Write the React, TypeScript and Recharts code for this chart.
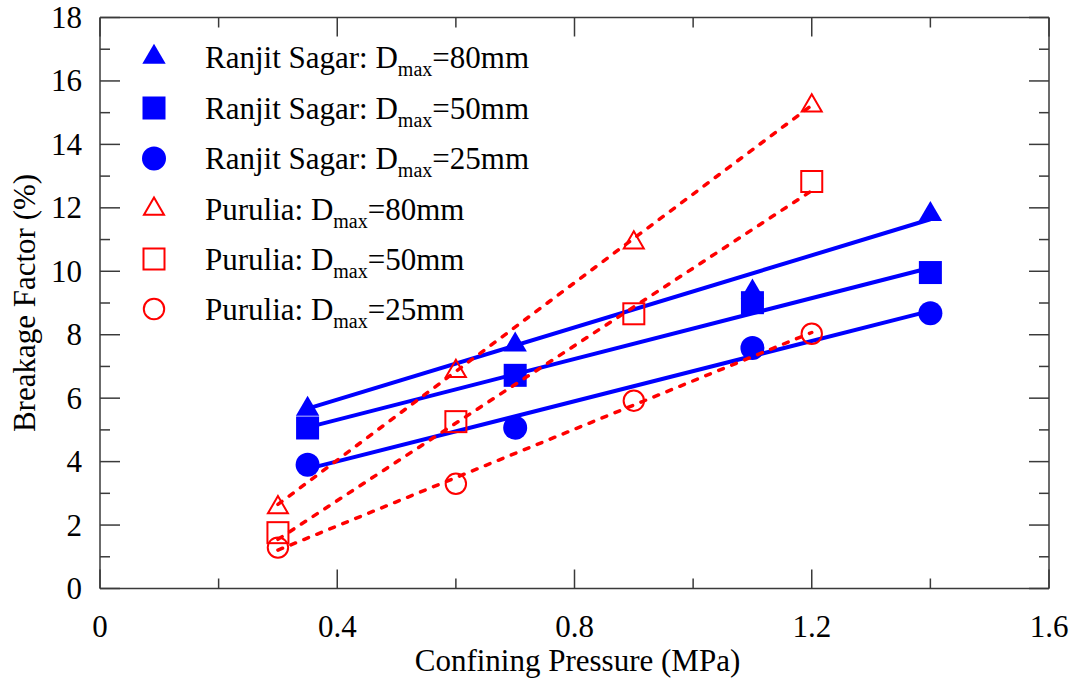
import React from 'react';
import { ScatterChart, Scatter, XAxis, YAxis, Legend } from 'recharts';

// ---- data ----
const pressureRS = [0.35, 0.7, 1.1, 1.4];
const pressurePU = [0.3, 0.6, 0.9, 1.2];
const rs80 = [5.66, 7.68, 9.35, 11.8];
const rs50 = [5.06, 6.72, 9.01, 9.96];
const rs25 = [3.9, 5.07, 7.58, 8.68];
const pu80 = [2.55, 6.85, 10.9, 15.22];
const pu50 = [1.76, 5.26, 8.66, 12.83];
const pu25 = [1.29, 3.3, 5.92, 8.03];

// fitted trend lines (end points)
const fitXRS = [0.35, 1.4];
const fitXPU = [0.3, 1.2];
const fitRS80 = [5.67, 11.64];
const fitRS50 = [5.08, 10.11];
const fitRS25 = [3.77, 8.75];
const fitPU80 = [2.65, 15.23];
const fitPU50 = [1.55, 12.54];
const fitPU25 = [1.21, 8.07];

const xTicks = [0, 0.2, 0.4, 0.6, 0.8, 1.0, 1.2, 1.4, 1.6];
const xTickLabels = ['0', '', '0.4', '', '0.8', '', '1.2', '', '1.6'];
const yTicks = [0, 1, 2, 3, 4, 5, 6, 7, 8, 9, 10, 11, 12, 13, 14, 15, 16, 17, 18];
const yTickLabels = ['0', '', '2', '', '4', '', '6', '', '8', '', '10', '', '12', '', '14', '', '16', '', '18'];

const legendSources = ['Ranjit Sagar', 'Ranjit Sagar', 'Ranjit Sagar', 'Purulia', 'Purulia', 'Purulia'];
const legendSizes = ['80', '50', '25', '80', '50', '25'];
const legendShapes = ['triF', 'sqF', 'ciF', 'triO', 'sqO', 'ciO'];

const xTitle = 'Confining Pressure (MPa)';
const yTitle = 'Breakage Factor (%)';

const BLUE = '#0000ff';
const RED = '#ff0000';
const AXIS = '#3a3a3a';
const FONT = "'Times New Roman', Times, 'Liberation Serif', Tinos, 'DejaVu Serif', 'Noto Serif', FreeSerif, serif";
const FS = 31;
const txtStyle = { fontFamily: FONT, fontSize: FS };

const toPts = (xs: number[], ys: number[]) => xs.map((x, i) => ({ x, y: ys[i] }));

// ---- marker shapes ----
const drawMarker = (kind: string, cx: number, cy: number, key?: any) => {
  switch (kind) {
    case 'triF':
      return <path key={key} d={`M${cx},${cy - 13.3} L${cx + 11.7},${cy + 6.7} L${cx - 11.7},${cy + 6.7} Z`} fill={BLUE} />;
    case 'sqF':
      return <rect key={key} x={cx - 11.5} y={cy - 11.5} width={23} height={23} fill={BLUE} />;
    case 'ciF':
      return <circle key={key} cx={cx} cy={cy} r={12} fill={BLUE} />;
    case 'triO':
      return <path key={key} d={`M${cx},${cy - 11.5} L${cx + 10},${cy + 5.7} L${cx - 10},${cy + 5.7} Z`} fill="none" stroke={RED} strokeWidth={2} />;
    case 'sqO':
      return <rect key={key} x={cx - 10.5} y={cy - 10.5} width={21} height={21} fill="none" stroke={RED} strokeWidth={2} />;
    case 'ciO':
      return <circle key={key} cx={cx} cy={cy} r={10.2} fill="none" stroke={RED} strokeWidth={2} />;
    default:
      return <g key={key} />;
  }
};

const makeShape = (kind: string) => (p: any) => drawMarker(kind, p.cx, p.cy);
const NoShape = () => <g />;

// ---- ticks ----
const BottomTick = (p: any) => {
  const i = xTicks.findIndex((t) => Math.abs(t - p.payload.value) < 1e-6);
  const lab = i >= 0 ? xTickLabels[i] : '';
  const major = lab !== '';
  return (
    <g>
      <line x1={p.x} y1={p.y} x2={p.x} y2={p.y - (major ? 19 : 10)} stroke={AXIS} strokeWidth={1.5} />
      {major && (
        <text x={p.x} y={p.y + 48} textAnchor="middle" style={txtStyle} fill="#000">
          {lab}
        </text>
      )}
    </g>
  );
};
const TopTick = (p: any) => {
  const i = xTicks.findIndex((t) => Math.abs(t - p.payload.value) < 1e-6);
  const major = i >= 0 && xTickLabels[i] !== '';
  return <line x1={p.x} y1={p.y} x2={p.x} y2={p.y + (major ? 19 : 10)} stroke={AXIS} strokeWidth={1.5} />;
};
const LeftTick = (p: any) => {
  const i = yTicks.findIndex((t) => Math.abs(t - p.payload.value) < 1e-6);
  const lab = i >= 0 ? yTickLabels[i] : '';
  const major = lab !== '';
  return (
    <g>
      <line x1={p.x} y1={p.y} x2={p.x + (major ? 20 : 10)} y2={p.y} stroke={AXIS} strokeWidth={1.5} />
      {major && (
        <text x={p.x - 18} y={p.y + 10.5} textAnchor="end" style={txtStyle} fill="#000">
          {lab}
        </text>
      )}
    </g>
  );
};
const RightTick = (p: any) => {
  const i = yTicks.findIndex((t) => Math.abs(t - p.payload.value) < 1e-6);
  const major = i >= 0 && yTickLabels[i] !== '';
  return <line x1={p.x} y1={p.y} x2={p.x - (major ? 20 : 10)} y2={p.y} stroke={AXIS} strokeWidth={1.5} />;
};

// ---- legend ----
const legendRows = [57, 108, 158.5, 209, 259, 309];
const LegendContent = () => (
  <svg width={600} height={340} style={{ overflow: 'visible' }}>
    {legendSources.map((src, i) => (
      <g key={i}>
        {drawMarker(legendShapes[i], 154, legendRows[i])}
        <text x={205} y={legendRows[i] + 10.5} style={txtStyle} fill="#000">
          {src}: D
          <tspan style={{ fontSize: 20 }} dy={8}>max</tspan>
          <tspan dy={-8}>={legendSizes[i]}mm</tspan>
        </text>
      </g>
    ))}
  </svg>
);

const XTitle = (props: any) => {
  const vb = props.viewBox;
  return (
    <text x={vb.x + vb.width / 2 + 3} y={671} textAnchor="middle" style={txtStyle} fill="#000">
      {xTitle}
    </text>
  );
};
const YTitle = (props: any) => {
  const vb = props.viewBox;
  const cy = vb.y + vb.height / 2;
  return (
    <text x={35} y={cy} transform={`rotate(-90, 35, ${cy})`} textAnchor="middle" style={txtStyle} fill="#000">
      {yTitle}
    </text>
  );
};

export default function App() {
  const axisLine = { stroke: AXIS, strokeWidth: 1.5 };
  const blueLine = { stroke: BLUE, strokeWidth: 4 };
  const redLine = { stroke: RED, strokeWidth: 3.5, strokeDasharray: '5 9', strokeLinecap: 'round' as const };
  const common = { xAxisId: 'b', yAxisId: 'l', isAnimationActive: false, legendType: 'none' as const };
  return (
    <div style={{ position: 'absolute', left: 0, top: 0, width: 1078, height: 684, background: '#fff', fontFamily: FONT }}>
      <ScatterChart width={1078} height={684} margin={{ top: 0, right: 0, bottom: 0, left: 0 }}>
        <XAxis
          xAxisId="b"
          type="number"
          dataKey="x"
          domain={[0, 1.6]}
          ticks={xTicks}
          interval={0}
          height={95.5}
          axisLine={axisLine}
          tickLine={false}
          tickSize={0}
          tickMargin={0}
          tick={BottomTick}
          allowDataOverflow
          label={{ content: XTitle }}
        />
        <XAxis
          xAxisId="t"
          orientation="top"
          type="number"
          dataKey="x"
          domain={[0, 1.6]}
          ticks={xTicks}
          interval={0}
          height={17.5}
          axisLine={axisLine}
          tickLine={false}
          tickSize={0}
          tickMargin={0}
          tick={TopTick}
          allowDataOverflow
        />
        <YAxis
          yAxisId="l"
          type="number"
          dataKey="y"
          domain={[0, 18]}
          ticks={yTicks}
          interval={0}
          width={100}
          axisLine={axisLine}
          tickLine={false}
          tickSize={0}
          tickMargin={0}
          tick={LeftTick}
          allowDataOverflow
          label={{ content: YTitle }}
        />
        <YAxis
          yAxisId="r"
          orientation="right"
          type="number"
          dataKey="y"
          domain={[0, 18]}
          ticks={yTicks}
          interval={0}
          width={29}
          axisLine={axisLine}
          tickLine={false}
          tickSize={0}
          tickMargin={0}
          tick={RightTick}
          allowDataOverflow
        />
        <Legend
          layout="vertical"
          align="center"
          verticalAlign="middle"
          content={LegendContent}
          wrapperStyle={{ position: 'absolute', left: 0, top: 0, width: 600, height: 340 }}
        />
        {/* hidden series binding the mirrored frame axes */}
        <Scatter xAxisId="t" yAxisId="r" data={toPts(fitXRS, fitRS80)} shape={NoShape} isAnimationActive={false} legendType="none" />

        <Scatter {...common} data={toPts(fitXRS, fitRS80)} line={blueLine} lineType="joint" shape={NoShape} />
        <Scatter {...common} data={toPts(fitXRS, fitRS50)} line={blueLine} lineType="joint" shape={NoShape} />
        <Scatter {...common} data={toPts(fitXRS, fitRS25)} line={blueLine} lineType="joint" shape={NoShape} />
        <Scatter {...common} data={toPts(pressureRS, rs80)} shape={makeShape('triF')} />
        <Scatter {...common} data={toPts(pressureRS, rs50)} shape={makeShape('sqF')} />
        <Scatter {...common} data={toPts(pressureRS, rs25)} shape={makeShape('ciF')} />

        <Scatter {...common} data={toPts(pressurePU, pu80)} shape={makeShape('triO')} />
        <Scatter {...common} data={toPts(pressurePU, pu50)} shape={makeShape('sqO')} />
        <Scatter {...common} data={toPts(pressurePU, pu25)} shape={makeShape('ciO')} />
        <Scatter {...common} data={toPts(fitXPU, fitPU80)} line={redLine} lineType="joint" shape={NoShape} />
        <Scatter {...common} data={toPts(fitXPU, fitPU50)} line={redLine} lineType="joint" shape={NoShape} />
        <Scatter {...common} data={toPts(fitXPU, fitPU25)} line={redLine} lineType="joint" shape={NoShape} />
      </ScatterChart>
    </div>
  );
}
